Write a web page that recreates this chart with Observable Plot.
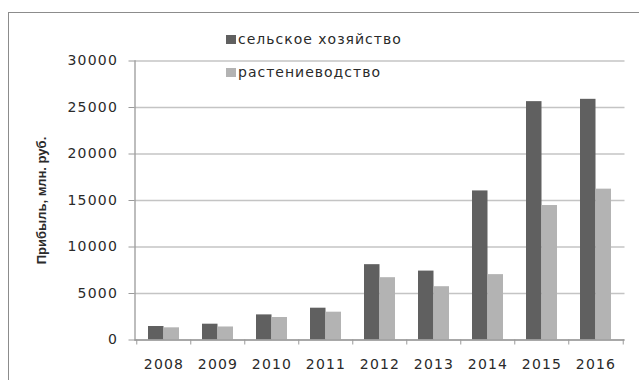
<!DOCTYPE html>
<html>
<head>
<meta charset="utf-8">
<script src="https://cdn.jsdelivr.net/npm/d3@7"></script>
<script src="https://cdn.jsdelivr.net/npm/@observablehq/plot@0.6"></script>
<style>
  html, body { margin: 0; padding: 0; background: #fff; }
  #wrap { position: relative; width: 639px; height: 380px; overflow: hidden; }
  #border { position: absolute; left: 8px; top: 12px; width: 640px; height: 380px;
            border-left: 1.5px solid #8c8c8c; border-top: 1.5px solid #8c8c8c; pointer-events: none; }
  #legend { position: absolute; left: 226px; top: 0; font: 14px "DejaVu Sans"; color: #2a2a2a; letter-spacing: 1px; }
  .item { position: absolute; left: 0; white-space: nowrap; display: flex; align-items: center; height: 18px; }
  .sw { width: 10px; height: 9px; margin-right: 2px; }
  svg text { letter-spacing: 1.2px; }
  g[aria-label="y-axis label"] text { font-family: "Liberation Sans", sans-serif; font-weight: bold; font-size: 13px; letter-spacing: 0; }
</style>
</head>
<body>
<div id="wrap"></div>
<script>
const years = ["2008", "2009", "2010", "2011", "2012", "2013", "2014", "2015", "2016"];
const agriculture = [1450, 1700, 2700, 3420, 8100, 7410, 16030, 25630, 25880];
const cropProduction = [1310, 1400, 2420, 2990, 6700, 5730, 7030, 14460, 16220];
const yTicks = [0, 5000, 10000, 15000, 20000, 25000, 30000];
const seriesNames = ["сельское хозяйство", "растениеводство"];
const seriesColors = ["#606060", "#b3b3b3"];
const yLabel = "Прибыль, млн. руб.";

const W = 639, H = 380, ML = 134.5, MR = 14.5;
const step = (W - ML - MR) / years.length;
const bw = 31;
const pInner = 1 - bw / step;

const chart = Plot.plot({
  width: W, height: H,
  marginLeft: ML, marginRight: MR, marginTop: 60.5, marginBottom: 40.5,
  style: { fontFamily: "DejaVu Sans", fontSize: "14px", color: "#2a2a2a", background: "transparent", overflow: "visible" },
  x: { domain: years, paddingInner: pInner, paddingOuter: pInner / 2, axis: null },
  y: { domain: [0, 30000], axis: null },
  marks: [
    Plot.gridY(yTicks, { stroke: "#c4c4c4", strokeOpacity: 1, strokeWidth: 1.3 }),
    Plot.barY(years, { x: d => d, y: (d, i) => agriculture[i], fill: seriesColors[0], insetRight: bw / 2 }),
    Plot.barY(years, { x: d => d, y: (d, i) => cropProduction[i], fill: seriesColors[1], insetLeft: bw / 2 }),
    Plot.ruleY([0], { stroke: "#9a9a9a", strokeWidth: 1.3 }),
    Plot.frame({ anchor: "left", stroke: "#9a9a9a", strokeWidth: 1.3 }),
    Plot.axisY(yTicks, { tickSize: 6, tickPadding: 11, stroke: "#9a9a9a", tickFormat: d => String(d),
      label: yLabel, labelAnchor: "center", labelArrow: "none", labelOffset: 98 }),
    Plot.axisX({ tickSize: 5, tickFormat: () => "", dx: -step / 2, stroke: "#9a9a9a", label: null }),
    Plot.axisX([years[years.length - 1]], { tickSize: 5, tickFormat: () => "", dx: step / 2, stroke: "#9a9a9a", label: null }),
    Plot.axisX({ tickSize: 0, tickPadding: 19, label: null })
  ]
});

const wrap = document.getElementById("wrap");
wrap.appendChild(chart);
const border = document.createElement("div");
border.id = "border";
wrap.appendChild(border);
const legend = document.createElement("div");
legend.id = "legend";
const tops = [30, 63];
seriesNames.forEach((name, i) => {
  const it = document.createElement("div");
  it.className = "item";
  it.style.top = tops[i] + "px";
  const sw = document.createElement("span");
  sw.className = "sw";
  sw.style.background = seriesColors[i];
  const tx = document.createElement("span");
  tx.textContent = name;
  it.appendChild(sw); it.appendChild(tx);
  legend.appendChild(it);
});
wrap.appendChild(legend);
chart.style.position = "absolute";
chart.style.left = "0"; chart.style.top = "0";
</script>
</body>
</html>
